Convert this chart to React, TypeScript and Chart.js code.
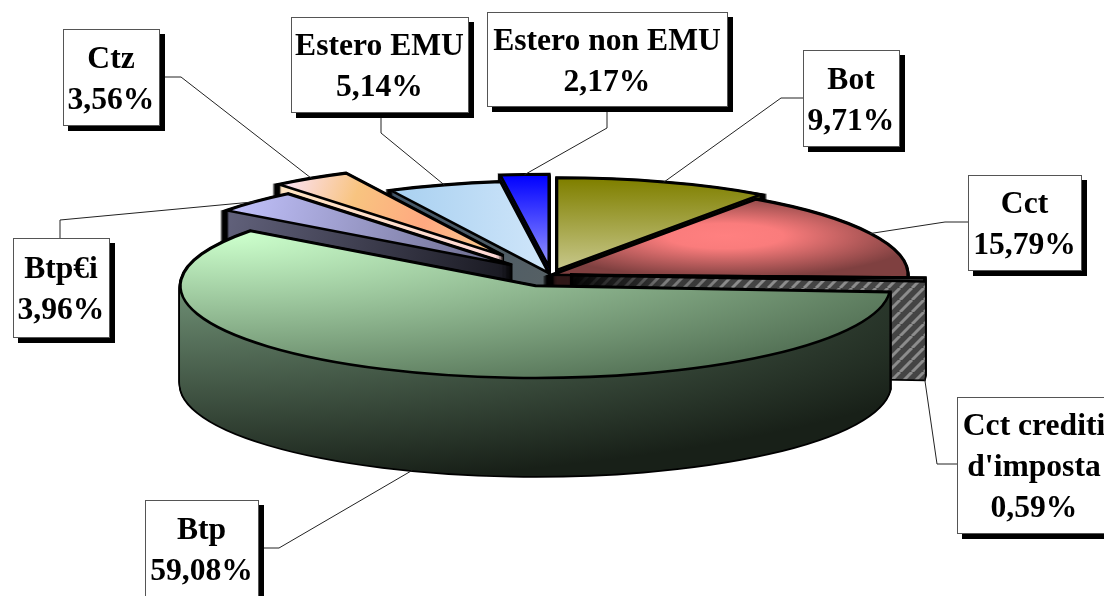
import React, { useEffect, useRef } from "react";
import { Chart, registerables } from "chart.js";

Chart.register(...registerables);

const categories = [["Bot"], ["Cct"], ["Cct crediti", "d'imposta"], ["Btp"], ["Btp€i"], ["Ctz"], ["Estero EMU"], ["Estero non EMU"]];
const shares = [9.71, 15.79, 0.59, 59.08, 3.96, 3.56, 5.14, 2.17];

// Presentation only
const explode = [20, 2, 19, 45, 54, 88, 8, 33];
const paintOrder = [7, 6, 5, 4, 0, 1, 2, 3];
const boxes = [
  { l: 803, t: 50, r: 899, b: 146, attach: [803, 98], elbow: [781, 98] },
  { l: 968, t: 175, r: 1081, b: 270, attach: [968, 222], elbow: [945, 222] },
  { l: 957, t: 397, r: 1111, b: 533, attach: [957, 464], elbow: [937, 464] },
  { l: 145, t: 500, r: 258, b: 596, attach: [258, 548], elbow: [279, 548] },
  { l: 13, t: 238, r: 109, b: 337, attach: [60, 238], elbow: [60, 220] },
  { l: 63, t: 29, r: 159, b: 125, attach: [159, 77], elbow: [181, 77] },
  { l: 291, t: 17, r: 468, b: 112, attach: [381, 112], elbow: [381, 133] },
  { l: 487, t: 12, r: 727, b: 106, attach: [607, 106], elbow: [607, 128] },
];
const CX = 551, CY = 275, RX = 355, RY = 92, DEPTH = 98;
const FONT = 'bold 31.6px "Liberation Serif"';
const LINE = 41;

type Fill = string | CanvasGradient | CanvasPattern;

function linear(ctx: CanvasRenderingContext2D, x0: number, y0: number, x1: number, y1: number, stops: [number, string][]) {
  const g = ctx.createLinearGradient(x0, y0, x1, y1);
  stops.forEach(([p, c]) => g.addColorStop(p, c));
  return g;
}

function stretchedRadial(ctx: CanvasRenderingContext2D, path: () => void, x: number, y: number, w: number, h: number, stops: [number, string][]) {
  ctx.save();
  path();
  ctx.clip();
  ctx.translate(x, y);
  ctx.scale(w, h);
  const g = ctx.createRadialGradient(0, 0, 0, 0, 0, 1);
  stops.forEach(([p, c]) => g.addColorStop(p, c));
  ctx.fillStyle = g;
  ctx.fillRect(-3, -3, 6, 6);
  ctx.restore();
}

function hatch(ctx: CanvasRenderingContext2D) {
  const c = document.createElement("canvas");
  c.width = 12; c.height = 12;
  const p = c.getContext("2d")!;
  p.fillStyle = "#444444";
  p.fillRect(0, 0, 12, 12);
  p.strokeStyle = "#8c8c8c";
  p.lineWidth = 3;
  [-12, 0, 12, 24].forEach((s) => {
    p.beginPath(); p.moveTo(s, 12); p.lineTo(s + 12, 0); p.stroke();
  });
  return ctx.createPattern(c, "repeat")!;
}

const pie3d = {
  id: "pie3d",
  beforeDatasetsDraw(chart: any) {
    const ctx: CanvasRenderingContext2D = chart.ctx;
    const arcs = chart.getDatasetMeta(0).data;
    const geo = arcs.map((arc: any) => {
      const { startAngle: a0, endAngle: a1 } = arc.getProps(["startAngle", "endAngle"], true);
      const mid = (a0 + a1) / 2;
      const k = arc.options.offset;
      return {
        a0, a1, mid,
        x: CX + Math.cos(mid) * k,
        y: CY + (Math.sin(mid) * k * RY) / RX,
      };
    });
    const sideFill: Fill[] = [
      "#4a4a10",
      "#301818",
      hatch(ctx),
      "#000",
      linear(ctx, 225, 210, 510, 270, [[0, "#62627c"], [1, "#181820"]]),
      linear(ctx, 278, 185, 505, 260, [[0, "#ffe4c0"], [1, "#ffd8d8"]]),
      linear(ctx, 393, 190, 550, 285, [[0, "#44586a"], [1, "#566064"]]),
      "#000080",
    ];
    const topFill: Fill[] = [
      linear(ctx, 0, 180, 0, 270, [[0, "#808000"], [1, "#c8c88c"]]),
      "#000",
      "#505050",
      "#000",
      linear(ctx, 225, 195, 510, 265, [[0, "#c4c4ff"], [1, "#686888"]]),
      linear(ctx, 290, 175, 505, 255, [[0, "#fbe0f0"], [0.3, "#f8c480"], [0.62, "#ffa880"], [1, "#f8d090"]]),
      linear(ctx, 393, 0, 550, 0, [[0, "#a8d0f0"], [1, "#d0e6fa"]]),
      linear(ctx, 0, 175, 0, 270, [[0, "#0000ff"], [1, "#9c9cff"]]),
    ];

    ctx.save();
    ctx.lineJoin = "miter";
    paintOrder.forEach((i) => {
      const g = geo[i];
      const path = (dy = 0) => {
        ctx.beginPath();
        ctx.moveTo(g.x, g.y + dy);
        ctx.ellipse(g.x, g.y + dy, RX, RY, 0, g.a0, g.a1);
        ctx.closePath();
      };
      ctx.strokeStyle = "#000";
      ctx.lineWidth = 3.6;
      for (let d = DEPTH; d >= 0; d--) { path(d); ctx.stroke(); }
      if (i === 3) {
        for (let d = DEPTH; d >= 0; d -= 1) {
          stretchedRadial(ctx, () => path(d), 181, 285, 880, 200, [[0, "#6f9075"], [1, "#182018"]]);
        }
      } else {
        ctx.fillStyle = sideFill[i];
        for (let d = DEPTH; d >= 0; d--) { path(d); ctx.fill(); }
      }
      if (i === 1) stretchedRadial(ctx, () => path(), 725, 236, 195, 42, [[0, "#ff8080"], [0.3, "#fa7c7c"], [1, "#7f4040"]]);
      else if (i === 3) stretchedRadial(ctx, () => path(), 230, 235, 760, 165, [[0, "#ccffcc"], [1, "#567458"]]);
      else { ctx.fillStyle = topFill[i]; path(); ctx.fill(); }
      ctx.lineWidth = 2.6;
      path(); ctx.stroke();
    });

    // Leaders and callouts
    shares.forEach((v, i) => {
      const g = geo[i];
      const b = boxes[i];
      const ax = g.x + RX * Math.cos(g.mid);
      const ay = g.y + RY * Math.sin(g.mid) + (Math.sin(g.mid) > 0 ? DEPTH : 0);
      ctx.strokeStyle = "#222";
      ctx.lineWidth = 1;
      ctx.beginPath();
      ctx.moveTo(b.attach[0], b.attach[1]);
      ctx.lineTo(b.elbow[0], b.elbow[1]);
      ctx.lineTo(ax, ay);
      ctx.stroke();

      ctx.fillStyle = "#000";
      ctx.fillRect(b.l + 5, b.t + 5, b.r - b.l + 1, b.b - b.t + 1);
      ctx.fillStyle = "#fff";
      ctx.fillRect(b.l, b.t, b.r - b.l, b.b - b.t);
      ctx.strokeStyle = "#555";
      ctx.strokeRect(b.l + 0.5, b.t + 0.5, b.r - b.l, b.b - b.t);

      const lines = [...categories[i], v.toFixed(2).replace(".", ",") + "%"];
      ctx.font = FONT;
      ctx.fillStyle = "#000";
      ctx.textAlign = "center";
      ctx.textBaseline = "alphabetic";
      const mid = (b.t + b.b) / 2;
      const cx = i === 2 ? 1034 : (b.l + b.r) / 2;
      lines.forEach((s, n) => {
        ctx.fillText(s, cx, mid + 11 + (n - (lines.length - 1) / 2) * LINE);
      });
    });
    ctx.restore();
    return false;
  },
};

export default function App() {
  const ref = useRef<HTMLCanvasElement>(null);
  useEffect(() => {
    const chart = new Chart(ref.current!, {
      type: "pie",
      data: {
        labels: categories.map((c) => c.join(" ")),
        datasets: [{ data: shares, offset: explode, borderWidth: 0 }],
      },
      options: {
        responsive: false,
        animation: false,
        devicePixelRatio: 1,
        plugins: { legend: { display: false }, tooltip: { enabled: false } },
      },
      plugins: [pie3d],
    } as any);
    return () => chart.destroy();
  }, []);
  return (
    <canvas
      ref={ref}
      width={1104}
      height={596}
      style={{ position: "fixed", left: 0, top: 0, width: 1104, height: 596, display: "block" }}
    />
  );
}
